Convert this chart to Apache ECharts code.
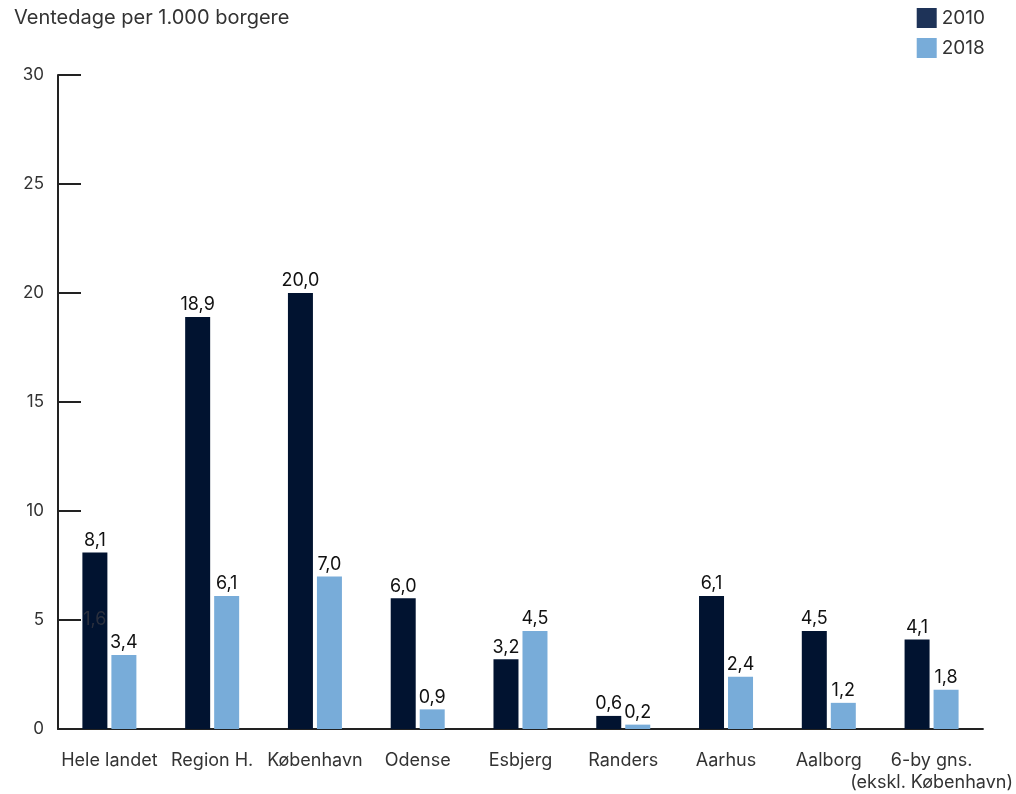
<!DOCTYPE html>
<html><head><meta charset="utf-8">
<script src="https://cdn.jsdelivr.net/npm/echarts@6/dist/echarts.min.js"></script>
<style>html,body{margin:0;padding:0;background:#fff}#c{width:1016px;height:794px}</style>
</head><body><div id="c"></div>
<script>
const categories = ['Hele landet', 'Region H.', 'København', 'Odense', 'Esbjerg', 'Randers', 'Aarhus', 'Aalborg', '6-by gns.\n(ekskl. København)'];
const values2010 = [8.1, 18.9, 20.0, 6.0, 3.2, 0.6, 6.1, 4.5, 4.1];
const values2018 = [3.4, 6.1, 7.0, 0.9, 4.5, 0.2, 2.4, 1.2, 1.8];
const yTicks = [0, 5, 10, 15, 20, 25, 30];
const strayLabel = { category: 'Hele landet', value: 5, text: '1,6' };

const FONT = 'Inter';
const fmt = v => v.toFixed(1).replace('.', ',');
const chart = echarts.init(document.getElementById('c'));
chart.setOption({
  animation: false,
  textStyle: { fontFamily: FONT },
  grid: { left: 58, right: 33, top: 75, bottom: 64, containLabel: false },
  title: {
    text: 'Ventedage per 1.000 borgere', left: 14, top: 8, padding: 0,
    textStyle: { fontFamily: FONT, fontSize: 20, fontWeight: 'normal', color: '#333' }
  },
  legend: {
    orient: 'vertical', right: 31, top: 8, itemWidth: 20, itemHeight: 20, itemGap: 10,
    icon: 'rect', padding: 0,
    textStyle: { fontFamily: FONT, fontSize: 19, color: '#333' },
    data: [
      { name: '2010', itemStyle: { color: '#1e3358' } },
      { name: '2018', itemStyle: { color: '#78acd9' } }
    ]
  },
  xAxis: {
    type: 'category', data: categories,
    axisLine: { lineStyle: { color: '#222', width: 2 } },
    axisTick: { inside: true, length: 16, lineStyle: { color: '#222', width: 2 } },
    axisLabel: { fontFamily: FONT, fontSize: 18, color: '#333', margin: 21, lineHeight: 22, interval: 0 }
  },
  yAxis: {
    type: 'value', min: 0, max: 30, interval: 5,
    axisLine: { show: true, lineStyle: { color: '#222', width: 2 } },
    axisTick: { show: true, inside: true, length: 23, lineStyle: { color: '#222', width: 2 } },
    splitLine: { show: false },
    axisLabel: { fontFamily: FONT, fontSize: 17, color: '#333', margin: 14,
      formatter: v => yTicks.includes(v) ? String(v) : '' }
  },
  series: [
    {
      name: '2010', type: 'bar', data: values2010, barWidth: 25, barGap: '16%',
      itemStyle: { color: '#011330' },
      label: { show: true, position: 'top', distance: 3, fontFamily: FONT, fontSize: 18, color: '#111', formatter: p => fmt(p.value) },
      markPoint: {
        symbol: 'rect', symbolSize: 0,
        data: [{ coord: [strayLabel.category, strayLabel.value] }],
        label: { show: true, position: 'inside', fontFamily: FONT, fontSize: 18, color: '#2a2f3d', formatter: () => strayLabel.text }
      }
    },
    {
      name: '2018', type: 'bar', data: values2018, barWidth: 25,
      itemStyle: { color: '#78acd9' },
      label: { show: true, position: 'top', distance: 3, fontFamily: FONT, fontSize: 18, color: '#111', formatter: p => fmt(p.value) }
    }
  ]
});
</script></body></html>
